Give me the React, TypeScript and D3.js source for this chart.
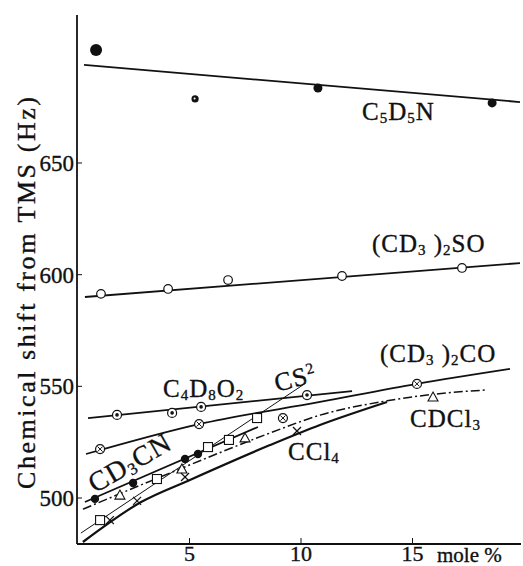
import React from "react";
import * as d3 from "d3";

const W = 523;
const H = 566;

const xTicks = [5, 10, 15];
const yTicks = [500, 550, 600, 650];

// [mole %, shift Hz]
const pyridinePts = [[0.81, 700.6], [5.25, 678.7], [10.76, 683.6], [18.57, 676.9]];
const pyridineFit = [[0.27, 693.9], [19.82, 677.3]];

const dmsoPts = [[1.03, 591.4], [4.04, 593.6], [6.73, 597.6], [11.84, 599.4], [17.22, 603.0]];
const dmsoFit = [[0.31, 590.0], [19.82, 605.2]];

const dioxanePts = [[1.75, 537.2], [4.22, 538.1], [5.52, 540.8], [10.27, 546.1]];
const dioxaneFit = [[0.45, 535.8], [12.29, 547.9]];

const acetonePts = [[0.99, 521.9], [5.43, 533.1], [9.19, 535.8], [15.2, 551.1]];
const acetoneFit = [[0.36, 519.7], [5.43, 533.1], [10.85, 543.0], [15.2, 551.1], [19.37, 557.8]];

const cs2Pts = [[0.99, 490.1], [3.54, 508.5], [5.83, 522.8], [6.77, 526.0], [8.03, 535.8]];
const cs2Fit = [[0.13, 484.3], [10.22, 551.5]];

const acetonitrilePts = [[0.76, 499.6], [2.47, 506.7], [4.8, 517.5], [5.38, 519.7]];
const acetonitrileFit = [[0.31, 498.2], [8.07, 531.8]];

const chloroformPts = [[1.88, 501.3], [4.66, 513.0], [7.49, 526.9], [15.92, 545.2]];
const chloroformFit = [[0.22, 495.0], [4.13, 511.2], [8.61, 529.1], [10.85, 537.1], [13.86, 543.5], [16.0, 546.5], [18.34, 548.4]];

const ccl4Pts = [[1.43, 490.1], [2.65, 498.7], [4.8, 509.4], [9.82, 530.0]];
const ccl4Fit = [[0.22, 480.3], [2.83, 498.2], [5.02, 508.1], [8.61, 523.7], [10.85, 532.7], [13.86, 543.0]];

const series = [
  { pts: pyridinePts, fit: pyridineFit, marker: "dot", sizes: [6, 3.6, 4.5, 4.5], width: 1.8 },
  { pts: dmsoPts, fit: dmsoFit, marker: "open", width: 1.8 },
  { pts: dioxanePts, fit: dioxaneFit, marker: "odot", width: 1.8 },
  { pts: acetonePts, fit: acetoneFit, marker: "ox", width: 1.8 },
  { pts: cs2Pts, fit: cs2Fit, marker: "square", width: 1 },
  { pts: acetonitrilePts, fit: acetonitrileFit, marker: "dot", width: 1.8 },
  { pts: chloroformPts, fit: chloroformFit, marker: "tri", width: 1.5, dash: "9 3 2 3" },
  { pts: ccl4Pts, fit: ccl4Fit, marker: "cross", width: 2.2 },
];

const labels = [
  { text: "C_5D_5N", x: 12.74, y: 669.3, rot: 0, size: 25 },
  { text: "(CD_3 )_2SO", x: 13.18, y: 610.2, rot: 0, size: 25 },
  { text: "(CD_3 )_2CO", x: 13.54, y: 560.9, rot: 0, size: 25 },
  { text: "C_4D_8O_2", x: 3.81, y: 545.2, rot: 0, size: 25 },
  { text: "CDCl_3", x: 14.89, y: 531.8, rot: 0, size: 25 },
  { text: "CCl_4", x: 9.42, y: 517.0, rot: 0, size: 25 },
  { text: "CS^2", x: 8.92, y: 547.5, rot: -15, size: 26 },
  { text: "CD_3CN", x: 0.76, y: 502.0, rot: -30, size: 28 },
];

const x = d3.scaleLinear().domain([0, 20]).range([78, 524]);
const y = d3.scaleLinear().domain([500, 650]).range([498, 163]);

const line = d3
  .line<number[]>()
  .x((d) => x(d[0]))
  .y((d) => y(d[1]))
  .curve(d3.curveMonotoneX);

function Chem({ s }: { s: string }) {
  const parts = s.split(/([_^]\d)/).filter(Boolean);
  let shift = 0;
  return (
    <>
      {parts.map((p, i) => {
        if (p[0] === "_" || p[0] === "^") {
          const target = p[0] === "_" ? 3 : -9;
          const dy = target - shift;
          shift = target;
          return (
            <tspan key={i} dy={dy} fontSize="0.6em">
              {p.slice(1)}
            </tspan>
          );
        }
        const dy = -shift;
        shift = 0;
        return (
          <tspan key={i} dy={dy}>
            {p}
          </tspan>
        );
      })}
    </>
  );
}

function Marker({ kind, cx, cy, r }: { kind: string; cx: number; cy: number; r?: number }) {
  const s = "#111";
  if (kind === "dot") {
    const rr = r ?? 4.2;
    return (
      <g>
        <circle cx={cx} cy={cy} r={rr} fill={s} />
        {rr < 4 && <circle cx={cx - 0.5} cy={cy - 0.5} r={1} fill="#fff" />}
      </g>
    );
  }
  if (kind === "open") return <circle cx={cx} cy={cy} r={4.3} fill="#fff" stroke={s} strokeWidth={1.2} />;
  if (kind === "odot")
    return (
      <g>
        <circle cx={cx} cy={cy} r={4.5} fill="#fff" stroke={s} strokeWidth={1.2} />
        <circle cx={cx} cy={cy} r={1.8} fill={s} />
      </g>
    );
  if (kind === "ox") {
    const k = 2.6;
    return (
      <g stroke={s} strokeWidth={1}>
        <circle cx={cx} cy={cy} r={4.5} fill="#fff" strokeWidth={1.2} />
        <line x1={cx - k} y1={cy - k} x2={cx + k} y2={cy + k} />
        <line x1={cx - k} y1={cy + k} x2={cx + k} y2={cy - k} />
      </g>
    );
  }
  if (kind === "square") return <rect x={cx - 4.5} y={cy - 4.5} width={9} height={9} fill="#fff" stroke={s} strokeWidth={1.1} />;
  if (kind === "tri")
    return (
      <path
        d={`M${cx},${cy - 5}L${cx + 5},${cy + 4}L${cx - 5},${cy + 4}Z`}
        fill="#fff"
        stroke={s}
        strokeWidth={1.1}
      />
    );
  const k = 4;
  return (
    <g stroke={s} strokeWidth={1.2}>
      <line x1={cx - k} y1={cy - k} x2={cx + k} y2={cy + k} />
      <line x1={cx - k} y1={cy + k} x2={cx + k} y2={cy - k} />
    </g>
  );
}

export default function App() {
  const x0 = 77;
  const yBottom = 544;
  const font = "'Liberation Serif', 'Times New Roman', serif";
  // slight stroke on text to mimic the heavy print of the scan
  const ink = { stroke: "#111", strokeWidth: 0.35 };
  return (
    <svg
      width={W}
      height={H}
      style={{ position: "absolute", left: 0, top: 0, background: "#fff" }}
      fontFamily={font}
      fill="#111"
    >
      {/* axes */}
      <line x1={x0} y1={15} x2={x0} y2={yBottom} stroke="#111" strokeWidth={1.8} />
      <line x1={x0} y1={yBottom} x2={521} y2={yBottom} stroke="#111" strokeWidth={1.8} />
      {yTicks.map((t) => (
        <g key={t}>
          <line x1={x0} x2={x0 + 5} y1={y(t)} y2={y(t)} stroke="#111" strokeWidth={1} />
          <text x={x0 - 3} y={y(t)} dy="0.35em" textAnchor="end" fontSize={23} {...ink}>
            {t}
          </text>
        </g>
      ))}
      {xTicks.map((t) => (
        <g key={t}>
          <line x1={x(t)} x2={x(t)} y1={yBottom} y2={yBottom - 6} stroke="#111" strokeWidth={1} />
          <text x={x(t)} y={561} textAnchor="middle" fontSize={22} {...ink}>
            {t}
          </text>
        </g>
      ))}
      <text x={437} y={562} fontSize={21} {...ink}>
        mole %
      </text>
      <text
        transform="translate(35,293) rotate(-90)"
        textAnchor="middle"
        fontSize={26}
        textLength={392}
        lengthAdjust="spacing"
        {...ink}
      >
        Chemical shift from TMS (Hz)
      </text>

      {/* fitted lines */}
      {series.map((s, i) => (
        <path
          key={i}
          d={line(s.fit) ?? ""}
          fill="none"
          stroke="#111"
          strokeWidth={s.width}
          strokeDasharray={s.dash}
        />
      ))}

      {/* data points */}
      {series.map((s, i) =>
        s.pts.map((p, j) => (
          <Marker key={`${i}-${j}`} kind={s.marker} cx={x(p[0])} cy={y(p[1])} r={s.sizes ? s.sizes[j] : undefined} />
        ))
      )}

      {/* compound labels */}
      {labels.map((l) => (
        <text
          key={l.text}
          transform={`translate(${x(l.x)},${y(l.y)}) rotate(${l.rot})`}
          fontSize={l.size}
          letterSpacing={1}
          {...ink}
        >
          <Chem s={l.text} />
        </text>
      ))}
    </svg>
  );
}
